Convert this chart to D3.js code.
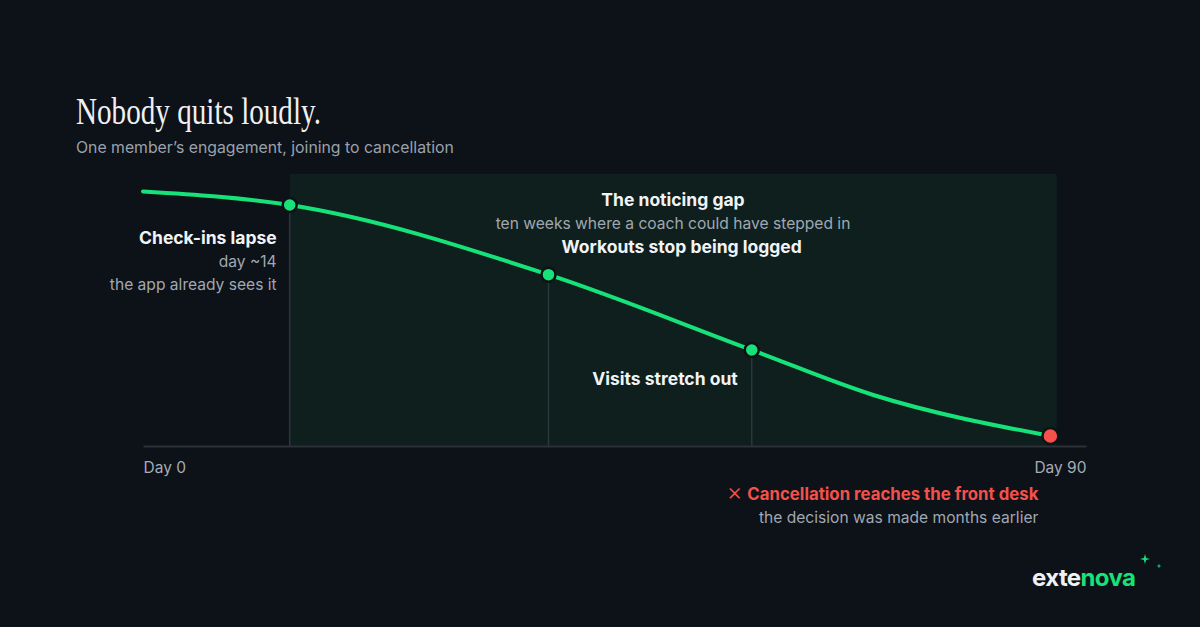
<!DOCTYPE html>
<html>
<head>
<meta charset="utf-8">
<script src="https://cdn.jsdelivr.net/npm/d3@7"></script>
<style>
  html, body { margin: 0; padding: 0; background: #0d1118; }
  svg { display: block; }
</style>
</head>
<body>
<svg id="chart"></svg>
<script>
// engagement curve (day, engagement 0-100)
const days = [0, 14, 38.7, 58.1, 69.7, 86.6];
const engagement = [93.6, 88.6, 63, 35.3, 18.75, 3.7];

// milestones on the curve
const markerDays = [14, 38.7, 58.1];
const markerNames = ['Check-ins lapse', 'Workouts stop being logged', 'Visits stretch out'];
const cancelDay = 86.6;

// the shaded "noticing gap"
const gapStart = 14;
const gapEnd = 87.2;

const tickDays = [0, 90];

const W = 1200, H = 627;
const green = '#17e27a', red = '#f4514b', bg = '#0d1118';

const svg = d3.select('#chart').attr('width', W).attr('height', H);
svg.append('rect').attr('width', W).attr('height', H).attr('fill', bg);

const x = d3.scaleLinear().domain([0, 90]).range([143, 1086]);
const y = d3.scaleLinear().domain([0, 100]).range([446, 174]);

const points = days.map((d, i) => ({ day: d, v: engagement[i] }));
const valueAt = day => points.find(p => p.day === day).v;

// title
svg.append('text')
  .attr('x', 76).attr('y', 124)
  .attr('font-family', 'Liberation Serif, serif')
  .attr('font-size', 37)
  .attr('fill', '#eef0f4')
  .attr('textLength', 245).attr('lengthAdjust', 'spacingAndGlyphs')
  .text('Nobody quits loudly.');

svg.append('text')
  .attr('x', 76).attr('y', 153)
  .attr('font-family', 'Inter, sans-serif')
  .attr('font-size', 15.8)
  .attr('fill', '#9aa2ac')
  .text('One member\u2019s engagement, joining to cancellation');

// gap band
svg.append('rect')
  .attr('x', x(gapStart)).attr('y', y(100))
  .attr('width', x(gapEnd) - x(gapStart))
  .attr('height', y(0) - y(100))
  .attr('fill', '#0e1f1d');

// drop lines
svg.append('g')
  .selectAll('line')
  .data(markerDays)
  .enter().append('line')
  .attr('x1', d => x(d)).attr('x2', d => x(d))
  .attr('y1', d => y(valueAt(d))).attr('y2', y(0))
  .attr('stroke', '#2f353d').attr('stroke-width', 1.5);

// axis
const axis = svg.append('g')
  .attr('transform', `translate(0,${y(0)})`)
  .call(d3.axisBottom(x).tickValues(tickDays).tickSize(0).tickSizeOuter(0).tickPadding(16)
    .tickFormat(d => 'Day ' + d));
axis.select('.domain').attr('stroke', '#2c3139').attr('stroke-width', 2);
axis.selectAll('text')
  .attr('font-family', 'Inter, sans-serif')
  .attr('font-size', 15.5)
  .attr('fill', '#a6adb6')
  .attr('text-anchor', (d, i) => i === 0 ? 'start' : 'end');

// curve
const line = d3.line()
  .x(d => x(d.day)).y(d => y(d.v))
  .curve(d3.curveMonotoneX);

svg.append('path')
  .datum(points)
  .attr('d', line)
  .attr('fill', 'none')
  .attr('stroke', green)
  .attr('stroke-width', 4)
  .attr('stroke-linecap', 'round');

// dots
svg.append('g')
  .selectAll('circle')
  .data(markerDays)
  .enter().append('circle')
  .attr('cx', d => x(d)).attr('cy', d => y(valueAt(d)))
  .attr('r', 7)
  .attr('fill', green)
  .attr('stroke', bg).attr('stroke-width', 2.5);

svg.append('circle')
  .attr('cx', x(cancelDay)).attr('cy', y(valueAt(cancelDay)))
  .attr('r', 8)
  .attr('fill', red)
  .attr('stroke', bg).attr('stroke-width', 2.5);

// labels
const bold = (sel) => sel
  .attr('font-family', 'Inter, sans-serif')
  .attr('font-weight', 700)
  .attr('font-size', 17.5)
  .attr('fill', '#f1f3f6');
const muted = (sel) => sel
  .attr('font-family', 'Inter, sans-serif')
  .attr('font-size', 15.6)
  .attr('fill', '#a0a8b1');

const m0x = x(markerDays[0]), m0y = y(valueAt(markerDays[0]));
svg.append('text').call(bold)
  .attr('x', m0x - 13).attr('y', m0y + 39).attr('text-anchor', 'end')
  .text(markerNames[0]);
svg.append('text').call(muted)
  .attr('x', m0x - 13).attr('y', m0y + 62).attr('text-anchor', 'end')
  .text('day ~14');
svg.append('text').call(muted)
  .attr('x', m0x - 13).attr('y', m0y + 85).attr('text-anchor', 'end')
  .text('the app already sees it');

const m1x = x(markerDays[1]), m1y = y(valueAt(markerDays[1]));
svg.append('text').call(bold)
  .attr('x', m1x + 13).attr('y', m1y - 22)
  .text(markerNames[1]);

const m2x = x(markerDays[2]), m2y = y(valueAt(markerDays[2]));
svg.append('text').call(bold)
  .attr('x', m2x - 14).attr('y', m2y + 35).attr('text-anchor', 'end')
  .text(markerNames[2]);

// gap heading
const gapMid = 673;
svg.append('text').call(bold)
  .attr('x', gapMid).attr('y', 206).attr('text-anchor', 'middle')
  .text('The noticing gap');
svg.append('text').call(muted)
  .attr('x', gapMid).attr('y', 229).attr('text-anchor', 'middle')
  .text('ten weeks where a coach could have stepped in');

// cancellation note
const cx = x(cancelDay) - 12;
const cancel = svg.append('text').call(bold)
  .attr('x', cx).attr('y', 500).attr('text-anchor', 'end')
  .attr('font-size', 16.8)
  .attr('fill', red);
cancel.append('tspan').attr('font-weight', 300).attr('font-size', 24).text('\u00d7');
cancel.append('tspan').attr('dx', 1).text(' Cancellation reaches the front desk');
svg.append('text').call(muted)
  .attr('x', cx).attr('y', 523).attr('text-anchor', 'end')
  .text('the decision was made months earlier');

// logo
const logo = svg.append('text')
  .attr('x', 1032).attr('y', 586)
  .attr('font-family', 'Inter, sans-serif')
  .attr('font-weight', 700)
  .attr('font-size', 24)
  .attr('letter-spacing', -0.6);
logo.append('tspan').attr('fill', '#eef0f4').text('exte');
logo.append('tspan').attr('fill', green).text('nova');

const star = (cx, cy, r) => {
  const k = r * 0.22;
  return `M${cx},${cy - r} L${cx + k},${cy - k} L${cx + r},${cy} L${cx + k},${cy + k} L${cx},${cy + r} L${cx - k},${cy + k} L${cx - r},${cy} L${cx - k},${cy - k} Z`;
};
svg.append('path').attr('d', star(1145, 559, 5)).attr('fill', green);
svg.append('path').attr('d', star(1159, 566, 2.5)).attr('fill', green);
</script>
</body>
</html>
